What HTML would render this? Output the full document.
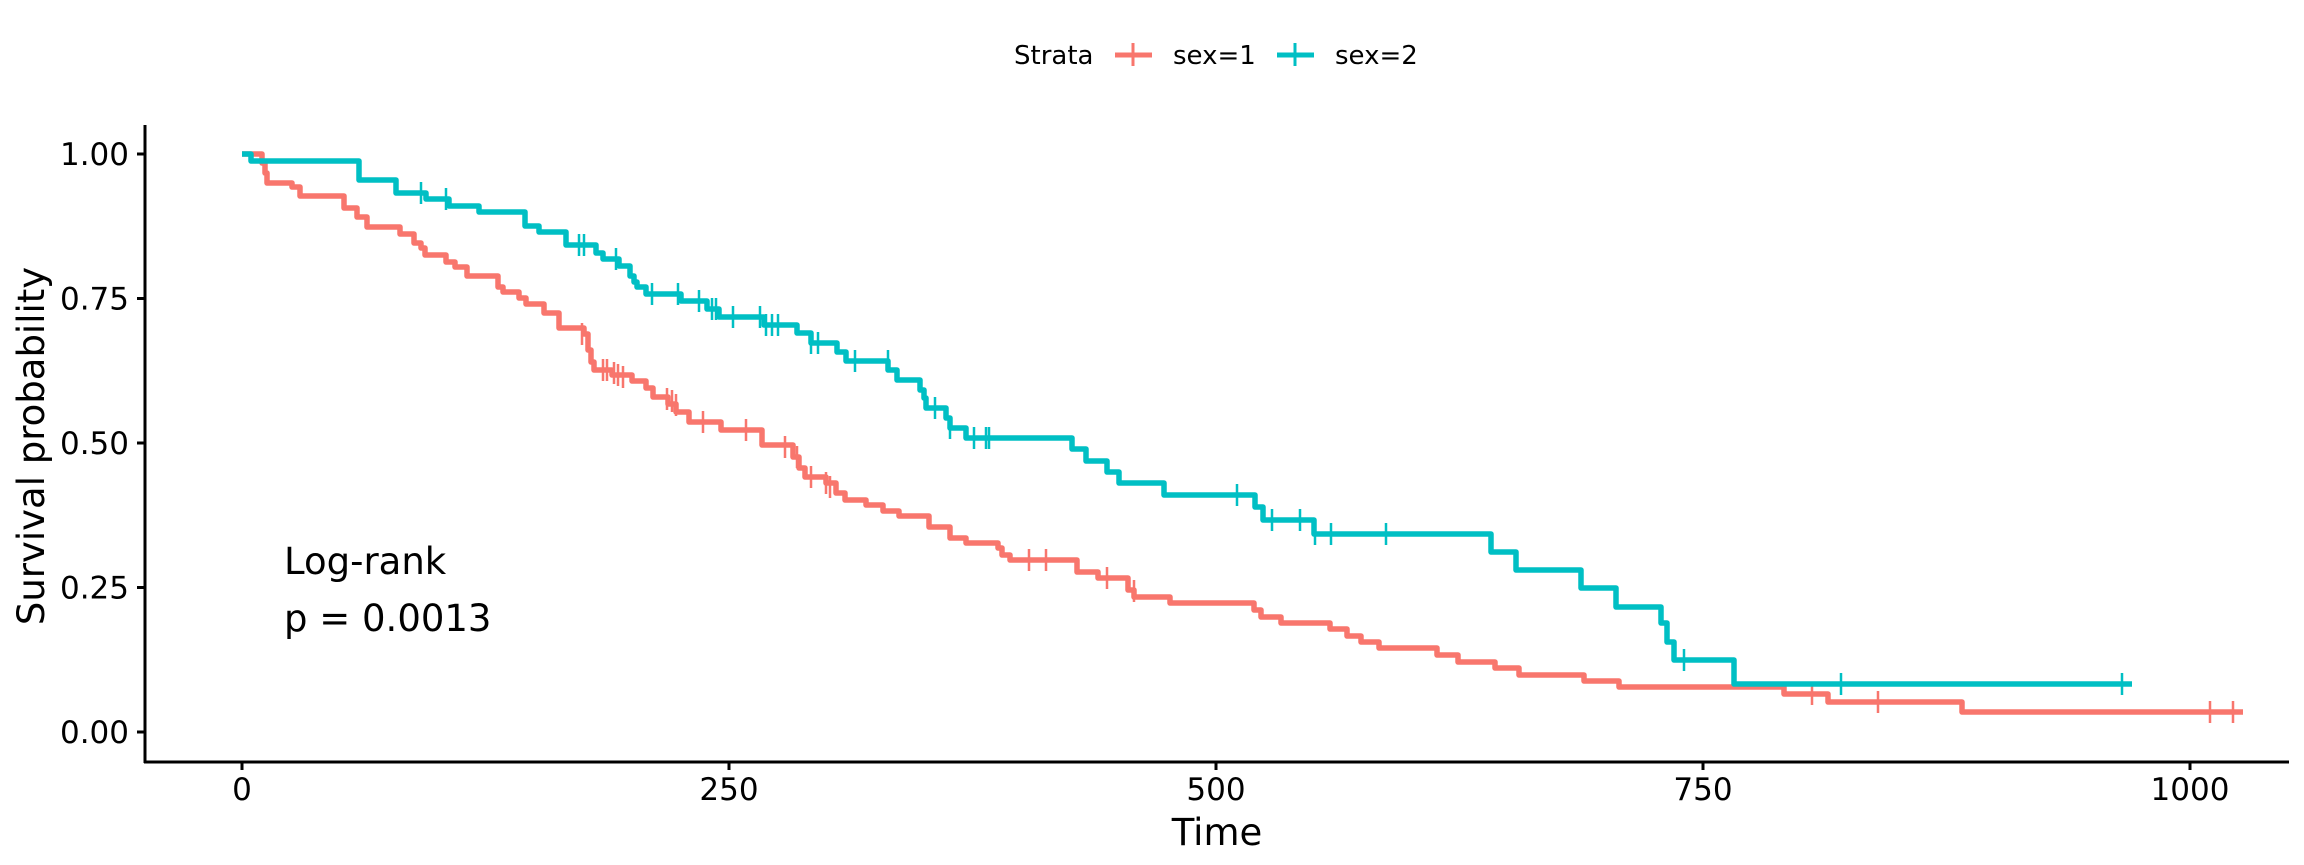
<!DOCTYPE html>
<html><head><meta charset="utf-8"><style>html,body{margin:0;padding:0;background:#fff}svg{display:block}</style></head>
<body>
<svg width="2304" height="865" viewBox="0 0 2304 865" xmlns="http://www.w3.org/2000/svg" font-family="DejaVu Sans, Liberation Sans, sans-serif">
<rect width="2304" height="865" fill="#fff"/>
<!-- legend -->
<text x="1014" y="64" font-size="26" fill="#000">Strata</text>
<g stroke="#F8766D" stroke-width="3"><line x1="1115" y1="55" x2="1152" y2="55" stroke-width="5"/><line x1="1133" y1="43" x2="1133" y2="66"/></g>
<text x="1173" y="64" font-size="26" fill="#000">sex=1</text>
<g stroke="#00BFC4" stroke-width="3"><line x1="1277" y1="55" x2="1314" y2="55" stroke-width="5"/><line x1="1295" y1="43" x2="1295" y2="66"/></g>
<text x="1335" y="64" font-size="26" fill="#000">sex=2</text>
<!-- axes -->
<g stroke="#000" stroke-width="3" fill="none">
<line x1="145" y1="125" x2="145" y2="763"/>
<line x1="144" y1="762" x2="2289" y2="762"/>
<line x1="137" y1="154" x2="145" y2="154"/><line x1="137" y1="298.5" x2="145" y2="298.5"/><line x1="137" y1="443" x2="145" y2="443"/><line x1="137" y1="587.5" x2="145" y2="587.5"/><line x1="137" y1="732" x2="145" y2="732"/>
<line x1="242" y1="762" x2="242" y2="770"/><line x1="729" y1="762" x2="729" y2="770"/><line x1="1216" y1="762" x2="1216" y2="770"/><line x1="1703" y1="762" x2="1703" y2="770"/><line x1="2190" y1="762" x2="2190" y2="770"/>
</g>
<g font-size="31" fill="#000" text-anchor="end">
<text x="129" y="165">1.00</text><text x="129" y="309.5">0.75</text><text x="129" y="454">0.50</text><text x="129" y="598.5">0.25</text><text x="129" y="743">0.00</text>
</g>
<g font-size="31" fill="#000" text-anchor="middle">
<text x="242" y="800">0</text><text x="729" y="800">250</text><text x="1216" y="800">500</text><text x="1703" y="800">750</text><text x="2190" y="800">1000</text>
</g>
<text x="1217" y="845" font-size="37" text-anchor="middle" fill="#000">Time</text>
<text transform="translate(44,446) rotate(-90)" font-size="37" text-anchor="middle" fill="#000">Survival probability</text>
<text x="284" y="574" font-size="37" fill="#000">Log-rank</text>
<text x="284" y="631" font-size="37" fill="#000">p = 0.0013</text>
<!-- red curve -->
<path fill="none" stroke="#F8766D" stroke-width="5.5" stroke-linejoin="round" d="M242,154 H262 V163 H265 V173 H267 V183 H292 V187 H300 V196 H344 V208 H357 V217 H367 V227 H400 V234 H414 V243 H421 V248 H425 V255 H446 V262 H455 V267 H467 V276 H498 V287 H503 V292 H519 V298 H526 V304 H544 V313 H559 V328 H584 V334 H588 V350 H591 V362 H594 V370 H612 V375 H632 V381 H646 V388 H653 V397 H668 V404 H676 V412 H689 V422 H721 V430 H762 V445 H793 V457 H799 V468 H805 V477 H826 V483 H836 V493 H845 V500 H866 V505 H883 V511 H899 V516 H929 V527 H950 V538 H966 V543 H998 V548 H1002 V555 H1010 V560 H1077 V572 H1098 V578 H1128 V590 H1134 V597 H1170 V603 H1254 V610 H1261 V617 H1281 V623 H1330 V629 H1347 V636 H1361 V642 H1379 V648 H1437 V655 H1458 V662 H1495 V668 H1519 V675 H1584 V681 H1619 V687 H1784 V694 H1828 V702 H1962 V712 H2243"/>
<g stroke="#F8766D" stroke-width="2.5" fill="none">
<path d="M582,323 v22 M603,359 v22 M607,359 v22 M614,362 v22 M618,364 v22 M623,366 v22 M667,388 v22 M672,390 v22 M676,394 v22 M703,411 v22 M746,419 v22 M785,436 v22 M797,446 v22 M811,466 v22 M826,472 v22 M830,476 v22 M1029,549 v22 M1046,549 v22 M1107,567 v22 M1134,580 v22 M1812,683 v22 M1878,691 v22 M2210,701 v22 M2233,701 v22"/>
</g>
<!-- cyan curve -->
<path fill="none" stroke="#00BFC4" stroke-width="5.5" stroke-linejoin="round" d="M242,154 H251 V161 H359 V180 H396 V193 H426 V199 H449 V206 H479 V212 H525 V226 H539 V232 H566 V245 H596 V253 H603 V259 H619 V266 H630 V276 H634 V282 H637 V287 H646 V294 H681 V301 H707 V309 H719 V317 H764 V325 H797 V333 H811 V343 H837 V352 H846 V361 H888 V370 H897 V380 H920 V390 H924 V398 H926 V408 H946 V418 H950 V428 H966 V438 H1072 V449 H1086 V461 H1107 V472 H1119 V483 H1164 V495 H1255 V507 H1263 V520 H1314 V534 H1491 V552 H1516 V570 H1581 V588 H1616 V607 H1661 V623 H1667 V642 H1674 V660 H1734 V684 H2132"/>
<g stroke="#00BFC4" stroke-width="2.5" fill="none">
<path d="M421,182 v22 M446,188 v22 M579,234 v22 M584,234 v22 M616,248 v22 M652,283 v22 M678,283 v22 M699,290 v22 M712,298 v22 M716,298 v22 M733,306 v22 M760,306 v22 M766,314 v22 M772,314 v22 M778,314 v22 M811,332 v22 M818,332 v22 M855,350 v22 M888,350 v22 M935,397 v22 M950,417 v22 M974,427 v22 M986,427 v22 M989,427 v22 M1237,484 v22 M1272,509 v22 M1300,509 v22 M1315,523 v22 M1331,523 v22 M1386,523 v22 M1684,649 v22 M1841,673 v22 M2122,673 v22"/>
</g>
</svg>
</body></html>
